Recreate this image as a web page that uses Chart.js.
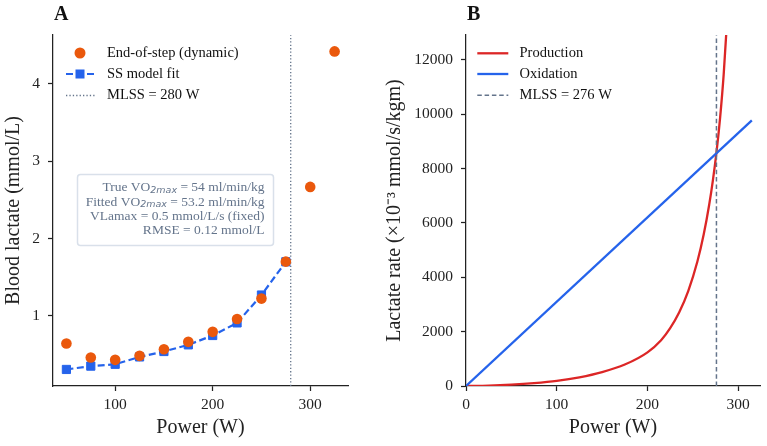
<!DOCTYPE html>
<html><head><meta charset="utf-8">
<script src="https://cdn.jsdelivr.net/npm/chart.js@4.4.1/dist/chart.umd.min.js"></script>
<style>
html,body{margin:0;padding:0;background:#fff;}
#wrap{position:relative;width:767px;height:446px;overflow:hidden;}
#cA{position:absolute;left:0;top:0;width:383px;height:446px;}
#cB{position:absolute;left:383px;top:0;width:384px;height:446px;}
</style></head><body>
<div id="wrap"><canvas id="cA" width="383" height="446"></canvas><canvas id="cB" width="384" height="446"></canvas></div>
<script>
// ---------- Panel A data ----------
const stepPower = [50, 75, 100, 125, 150, 175, 200, 225, 250, 275, 300, 325];
const lactateEndOfStep = [0.644, 0.463, 0.432, 0.484, 0.570, 0.665, 0.794, 0.961, 1.224, 1.702, 2.668, 4.42];
const fitPower = [50, 75, 100, 125, 150, 175, 200, 225, 250, 275];
const lactateSSFit = [0.308, 0.351, 0.375, 0.470, 0.540, 0.626, 0.747, 0.910, 1.270, 1.700];
const mlssA = [280];
const ticksAX = [100, 200, 300];
const ticksAY = [1, 2, 3, 4];
const statsText = [
  ['True VO', '2max', ' = 54 ml/min/kg'],
  ['Fitted VO', '2max', ' = 53.2 ml/min/kg'],
  ['VLamax = 0.5 mmol/L/s (fixed)'],
  ['RMSE = 0.12 mmol/L']
];
// ---------- Panel B data ----------
const ratePower = [0, 25, 50, 75, 100, 125, 150, 175, 200, 215, 225, 235, 245, 255, 262, 268, 272, 276, 280, 284, 288];
const productionRate = [0, 15, 50, 106, 188, 318, 510, 790, 1240, 1687, 2130, 2716, 3505, 4582, 5582, 6671, 7552, 8590, 9861, 11480, 13635];
const oxidationPower = [0, 315];
const oxidationRate = [0, 9780];
const mlssB = [276];
const ticksBX = [0, 100, 200, 300];
const ticksBY = [0, 2000, 4000, 6000, 8000, 10000, 12000];

const SERIF = '"Liberation Serif", "Times New Roman", serif';
const ORANGE = '#ea580c', BLUE = '#2563eb', RED = '#dc2626', SLATE = '#64748b', INK = '#222';

function pts(xs, ys){ return xs.map((x,i)=>({x:x, y:ys[i]})); }
function fixedTicks(list){ return function(scale){ scale.ticks = list.map(v=>({value:v})); }; }

function axis(min, max, tickList, title, isX, fixedSize, titlePad){
  return {
    type:'linear', min:min, max:max,
    afterBuildTicks: fixedTicks(tickList),
    afterFit: function(s){ if(isX) s.height = fixedSize; else s.width = fixedSize; },
    grid:{drawOnChartArea:false, drawTicks:true, tickLength:5, tickWidth:1.25, tickColor:INK},
    border:{display:true, color:INK, width:1.25},
    ticks:{color:INK, font:{family:SERIF, size:15.5}, padding: isX ? 5 : 8, callback:v=>String(v), maxRotation:0, autoSkip:false},
    title:{display:true, text:title, color:INK, font:{family:SERIF, size:20}, padding:titlePad}
  };
}

function panelLetter(letter, x, y){
  return {id:'letter'+letter, afterDraw(chart){
    const c = chart.ctx; c.save();
    c.font = 'bold 20px ' + SERIF; c.fillStyle = '#111'; c.textBaseline='middle'; c.textAlign='left';
    c.fillText(letter, x, y); c.restore();
  }};
}

const legendA = {id:'legendA', afterDraw(chart){
  const c = chart.ctx; c.save();
  const tx = 107, rows=[53, 74, 95.5];
  c.fillStyle = ORANGE; c.beginPath(); c.arc(80, rows[0], 5.5, 0, Math.PI*2); c.fill();
  c.strokeStyle = BLUE; c.lineWidth = 2.2; c.setLineDash([7,3.5]);
  c.beginPath(); c.moveTo(66, rows[1]); c.lineTo(95, rows[1]); c.stroke();
  c.setLineDash([]); c.fillStyle = BLUE; c.fillRect(80-4.5, rows[1]-4.5, 9, 9);
  c.strokeStyle = SLATE; c.lineWidth = 1.3; c.setLineDash([1.3,2.1]);
  c.beginPath(); c.moveTo(66, rows[2]); c.lineTo(95, rows[2]); c.stroke(); c.setLineDash([]);
  c.font = '14.5px ' + SERIF; c.fillStyle = '#111'; c.textBaseline='middle'; c.textAlign='left';
  c.fillText('End-of-step (dynamic)', tx, rows[0]);
  c.fillText('SS model fit', tx, rows[1]);
  c.fillText('MLSS = ' + mlssA[0] + ' W', tx, rows[2]);
  c.restore();
}};

const statsBox = {id:'statsBox', afterDraw(chart){
  const c = chart.ctx; c.save();
  const x0=77, y0=174, w=196, h=71, r=3;
  c.beginPath(); c.roundRect(x0+0.5, y0+0.5, w, h, r);
  c.fillStyle='rgba(255,255,255,0.85)'; c.fill();
  c.strokeStyle='#d9e0ea'; c.lineWidth=1.5; c.stroke();
  const main = '13.5px ' + SERIF, sub = 'italic 9.5px "DejaVu Sans", sans-serif';
  const rightX = 264.5, ys=[187.7, 202, 216.3, 230.7];
  c.fillStyle = SLATE; c.textBaseline='middle'; c.textAlign='left';
  statsText.forEach((segs, i)=>{
    const widths = segs.map((s,k)=>{ c.font = (segs.length===3 && k===1) ? sub : main; return c.measureText(s).width; });
    const total = widths.reduce((a,b)=>a+b,0);
    let x = rightX - total;
    segs.forEach((s,k)=>{
      const isSub = segs.length===3 && k===1;
      c.font = isSub ? sub : main;
      c.fillText(s, x, ys[i] + (isSub ? 2.5 : 0));
      x += widths[k];
    });
  });
  c.restore();
}};

const legendB = {id:'legendB', afterDraw(chart){
  const c = chart.ctx; c.save();
  const x1 = 477.3-383, x2 = 508.3-383, tx = 519.5-383, rows=[53.3, 74, 95.3];
  c.lineWidth = 2.3;
  c.strokeStyle = RED; c.beginPath(); c.moveTo(x1, rows[0]); c.lineTo(x2, rows[0]); c.stroke();
  c.strokeStyle = BLUE; c.beginPath(); c.moveTo(x1, rows[1]); c.lineTo(x2, rows[1]); c.stroke();
  c.strokeStyle = SLATE; c.lineWidth = 1.5; c.setLineDash([4.5,2.8]);
  c.beginPath(); c.moveTo(x1, rows[2]); c.lineTo(x2, rows[2]); c.stroke(); c.setLineDash([]);
  c.font = '14.5px ' + SERIF; c.fillStyle = '#111'; c.textBaseline='middle'; c.textAlign='left';
  c.fillText('Production', tx, rows[0]);
  c.fillText('Oxidation', tx, rows[1]);
  c.fillText('MLSS = ' + mlssB[0] + ' W', tx, rows[2]);
  c.restore();
}};

Chart.defaults.font.family = SERIF;

new Chart(document.getElementById('cA'), {
  type:'line',
  data:{datasets:[
    {label:'End-of-step (dynamic)', data:pts(stepPower, lactateEndOfStep), showLine:false,
     pointStyle:'circle', pointRadius:5.3, pointBackgroundColor:ORANGE, pointBorderColor:ORANGE, pointBorderWidth:0, order:1},
    {label:'SS model fit', data:pts(fitPower, lactateSSFit), borderColor:BLUE, borderWidth:2.2, borderDash:[7,3.5],
     pointStyle:'rect', pointRadius:5.8, pointBackgroundColor:BLUE, pointBorderColor:BLUE, pointBorderWidth:1, tension:0, order:2},
    {label:'MLSS = 280 W', data:[{x:mlssA[0], y:0.094},{x:mlssA[0], y:4.632}], borderColor:SLATE, borderWidth:1.3,
     borderDash:[1.3,2.1], pointRadius:0, order:3}
  ]},
  options:{
    responsive:false, animation:false, devicePixelRatio:1,
    layout:{padding:{top:35, right:35, left:0, bottom:0}},
    plugins:{legend:{display:false}, tooltip:{enabled:false}},
    scales:{
      x: axis(36.25, 338.75, ticksAX, 'Power (W)', true, 60, {top:0, bottom:6}),
      y: axis(0.094, 4.632, ticksAY, 'Blood lactate (mmol/L)', false, 53, {top:2, bottom:0})
    }
  },
  plugins:[panelLetter('A', 54, 14.5), legendA, statsBox]
});

new Chart(document.getElementById('cB'), {
  type:'line',
  data:{datasets:[
    {label:'Production', data:pts(ratePower, productionRate), borderColor:RED, borderWidth:2.3, pointRadius:0,
     cubicInterpolationMode:'monotone', order:3},
    {label:'Oxidation', data:pts(oxidationPower, oxidationRate), borderColor:BLUE, borderWidth:2.3, pointRadius:0, order:2},
    {label:'MLSS = 276 W', data:[{x:mlssB[0], y:0},{x:mlssB[0], y:12920}], borderColor:SLATE, borderWidth:1.5,
     borderDash:[4.5,2.8], pointRadius:0, order:1}
  ]},
  options:{
    responsive:false, animation:false, devicePixelRatio:1,
    layout:{padding:{top:35, right:7, left:0, bottom:0}},
    plugins:{legend:{display:false}, tooltip:{enabled:false}},
    scales:{
      x: axis(0, 324, ticksBX, 'Power (W)', true, 60, {top:0, bottom:6}),
      y: axis(0, 12920, ticksBY, 'Lactate rate (×10⁻³ mmol/s/kgm)', false, 83, {top:0, bottom:0})
    }
  },
  plugins:[panelLetter('B', 84, 15), legendB]
});
</script>
</body></html>
